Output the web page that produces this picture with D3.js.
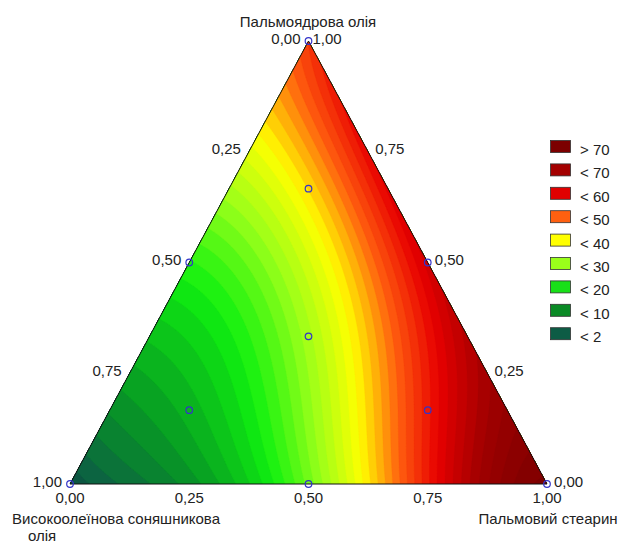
<!DOCTYPE html>
<html><head><meta charset="utf-8">
<script src="https://cdn.jsdelivr.net/npm/d3@7"></script>
<style>
body{margin:0;background:#fff}
text{font-family:"Liberation Sans",Arial,sans-serif;font-size:15px;fill:#222}
</style>
</head><body>
<svg id="chart" width="622" height="545"></svg>
<script>
// Mixture components: high-oleic sunflower oil (SF), palm kernel oil (PK), palm stearin (PS)
const titleTop = "Пальмоядрова олія";
const titleLeft = ["Високоолеїнова соняшникова", "олія"];
const titleRight = "Пальмовий стеарин";

const tickValues = [0, 0.25, 0.5, 0.75, 1];
const tickLabels = ["0,00", "0,25", "0,50", "0,75", "1,00"];

// Experimental design points (fractions SF, PK, PS)
const designSF = [1, 0, 0, 0.5, 0.5, 0, 1/3, 2/3, 1/6, 1/6];
const designPK = [0, 1, 0, 0, 0.5, 0.5, 1/3, 1/6, 2/3, 1/6];
const designPS = [0, 0, 1, 0.5, 0, 0.5, 1/3, 1/6, 1/6, 2/3];

// Response observations over the simplex
const sampleSF = [1, 0.875, 0.75, 0.625, 0.56, 0.5, 0.47, 0.39, 0.31, 0.25, 0.13, 0,
                  0.75, 0.5, 0.25, 0.126, 0.05, 0,
                  0, 0, 0, 0,
                  1/3, 1/6, 2/3, 1/6, 0.181, 0.456, 0.184, 0.143, 0.08];
const samplePK = [0, 0, 0, 0, 0, 0, 0, 0, 0, 0, 0, 0,
                  0.25, 0.5, 0.75, 0.874, 0.95, 1,
                  0.25, 0.5, 0.75, 0.9,
                  1/3, 2/3, 1/6, 1/6, 0.527, 1/3, 1/3, 0.75, 0.75];
const samplePS = [0, 0.125, 0.25, 0.375, 0.44, 0.5, 0.53, 0.61, 0.69, 0.75, 0.87, 1,
                  0, 0, 0, 0, 0, 0,
                  0.75, 0.5, 0.25, 0.1,
                  1/3, 1/6, 1/6, 2/3, 0.292, 0.211, 0.483, 0.107, 0.17];
const sampleValue = [0, 5, 10, 15, 20, 27, 30, 40, 50, 58, 70, 79,
                     12, 21, 38, 45, 50, 55,
                     69, 64, 59, 57,
                     33, 42, 12, 58, 40, 22, 46, 46, 51];

// Colour ramp of the response
const colorStopValues = [0, 2, 10, 20, 30, 40, 50, 60, 70, 80];
const colorStopColors = ["#0b4f3c", "#0d5c45", "#079a24", "#10f010", "#9aff1a",
                         "#ffff00", "#ff6010", "#e80000", "#a00000", "#780000"];

// Legend
const legendLabels = ["> 70", "< 70", "< 60", "< 50", "< 40", "< 30", "< 20", "< 10", "< 2"];
const legendColors = ["#7c0000", "#a40000", "#e00000", "#ff6010", "#ffff00",
                      "#9aff1a", "#18e018", "#0a8a25", "#0d5c45"];

const contourStep = 2;

// ---- least-squares polynomial response surface in (PK, PS) ----
const degree = 4;
const terms = [];
for (let i = 0; i <= degree; i++) for (let j = 0; i + j <= degree; j++) terms.push([i, j]);
function basis(b, c) { return terms.map(([i, j]) => Math.pow(b, i) * Math.pow(c, j)); }
function fit() {
  const n = terms.length;
  const A = Array.from({length: n}, () => new Array(n).fill(0));
  const y = new Array(n).fill(0);
  for (let k = 0; k < sampleValue.length; k++) {
    const row = basis(samplePK[k], samplePS[k]);
    for (let p = 0; p < n; p++) {
      y[p] += row[p] * sampleValue[k];
      for (let q = 0; q < n; q++) A[p][q] += row[p] * row[q];
    }
  }
  for (let p = 0; p < n; p++) A[p][p] += 1e-7;
  // Gaussian elimination with partial pivoting
  for (let col = 0; col < n; col++) {
    let piv = col;
    for (let r = col + 1; r < n; r++) if (Math.abs(A[r][col]) > Math.abs(A[piv][col])) piv = r;
    [A[col], A[piv]] = [A[piv], A[col]]; [y[col], y[piv]] = [y[piv], y[col]];
    for (let r = col + 1; r < n; r++) {
      const f = A[r][col] / A[col][col];
      for (let q = col; q < n; q++) A[r][q] -= f * A[col][q];
      y[r] -= f * y[col];
    }
  }
  const beta = new Array(n).fill(0);
  for (let r = n - 1; r >= 0; r--) {
    let s = y[r];
    for (let q = r + 1; q < n; q++) s -= A[r][q] * beta[q];
    beta[r] = s / A[r][r];
  }
  return beta;
}
const beta = fit();
const response = (b, c) => d3.sum(basis(b, c), (v, i) => v * beta[i]);

// ---- geometry ----
const svg = d3.select("#chart");
const xScale = d3.scaleLinear().domain([0, 1]).range([70, 547]);
const yScale = d3.scaleLinear().domain([0, 1]).range([484, 41]);
const px = (a, b, c) => xScale(c + b / 2);
const py = (a, b, c) => yScale(b);

const color = d3.scaleLinear().domain(colorStopValues).range(colorStopColors)
  .interpolate(d3.interpolateRgb).clamp(true);

const triPts = [[px(1,0,0), py(1,0,0)], [px(0,1,0), py(0,1,0)], [px(0,0,1), py(0,0,1)]];
svg.append("clipPath").attr("id", "tri")
  .append("polygon").attr("points", triPts.map(p => p.join(",")).join(" "));

// ---- contour field ----
const cell = 1.5;
const x0 = 66, y0 = 37;
const nx = Math.ceil((552 - x0) / cell), ny = Math.ceil((489 - y0) / cell);
const grid = new Array(nx * ny);
for (let j = 0; j < ny; j++) {
  for (let i = 0; i < nx; i++) {
    const X = x0 + i * cell, Y = y0 + j * cell;
    const b = yScale.invert(Y);
    const c = xScale.invert(X) - b / 2;
    grid[j * nx + i] = response(b, c);
  }
}
const thresholds = d3.range(-40, 130, contourStep);
const contours = d3.contours().size([nx, ny]).thresholds(thresholds)(grid);
const proj = d3.geoTransform({
  point(x, y) { this.stream.point(x0 + (x - 0.5) * cell, y0 + (y - 0.5) * cell); }
});
const path = d3.geoPath(proj);

const field = svg.append("g").attr("clip-path", "url(#tri)");
field.append("polygon").attr("points", triPts.map(p => p.join(",")).join(" "))
  .attr("fill", color(0));
field.selectAll("path").data(contours).join("path")
  .attr("d", path)
  .attr("fill", d => color(d.value + contourStep / 2))
  .attr("stroke", d => color(d.value + contourStep / 2))
  .attr("stroke-width", 0.3);

svg.append("polygon").attr("points", triPts.map(p => p.join(",")).join(" "))
  .attr("fill", "none").attr("stroke", "#111").attr("stroke-width", 1);

// ---- tick labels ----
const g = svg.append("g");
// bottom edge: palm stearin fraction
tickValues.forEach((t, i) => {
  g.append("text").attr("x", px(1 - t, 0, t)).attr("y", 503)
    .attr("text-anchor", "middle").text(tickLabels[i]);
});
// left edge: sunflower oil fraction
tickValues.forEach((t, i) => {
  const a = t, b = 1 - t;
  g.append("text").attr("x", px(a, b, 0) - 8).attr("y", py(a, b, 0) + 2.5)
    .attr("text-anchor", "end").text(tickLabels[i]);
});
// right edge: palm kernel oil fraction
tickValues.forEach((t, i) => {
  const b = t, c = 1 - t;
  g.append("text").attr("x", px(0, b, c) + (t === 1 ? 4 : 7)).attr("y", py(0, b, c) + 2.5)
    .attr("text-anchor", "start").text(tickLabels[i]);
});

// ---- component titles ----
g.append("text").attr("x", 308).attr("y", 27).attr("text-anchor", "middle").text(titleTop);
g.append("text").attr("x", 12).attr("y", 524).text(titleLeft[0]);
g.append("text").attr("x", 28).attr("y", 541).text(titleLeft[1]);
g.append("text").attr("x", 548).attr("y", 524).attr("text-anchor", "middle").text(titleRight);

// ---- design points ----
svg.append("g").selectAll("circle").data(d3.range(designSF.length)).join("circle")
  .attr("cx", i => px(designSF[i], designPK[i], designPS[i]))
  .attr("cy", i => py(designSF[i], designPK[i], designPS[i]))
  .attr("r", 3.3)
  .attr("fill", "none").attr("stroke", "#3434c8").attr("stroke-width", 1.2);

// ---- legend ----
const lg = svg.append("g");
legendLabels.forEach((lab, i) => {
  const y = 140 + i * 23.4;
  lg.append("rect").attr("x", 550.5).attr("y", y + 0.5).attr("width", 20).attr("height", 12)
    .attr("fill", legendColors[i]).attr("stroke", "#333").attr("stroke-width", 0.8);
  lg.append("text").attr("x", 580).attr("y", y + 15).text(lab);
});
</script>
</body></html>
